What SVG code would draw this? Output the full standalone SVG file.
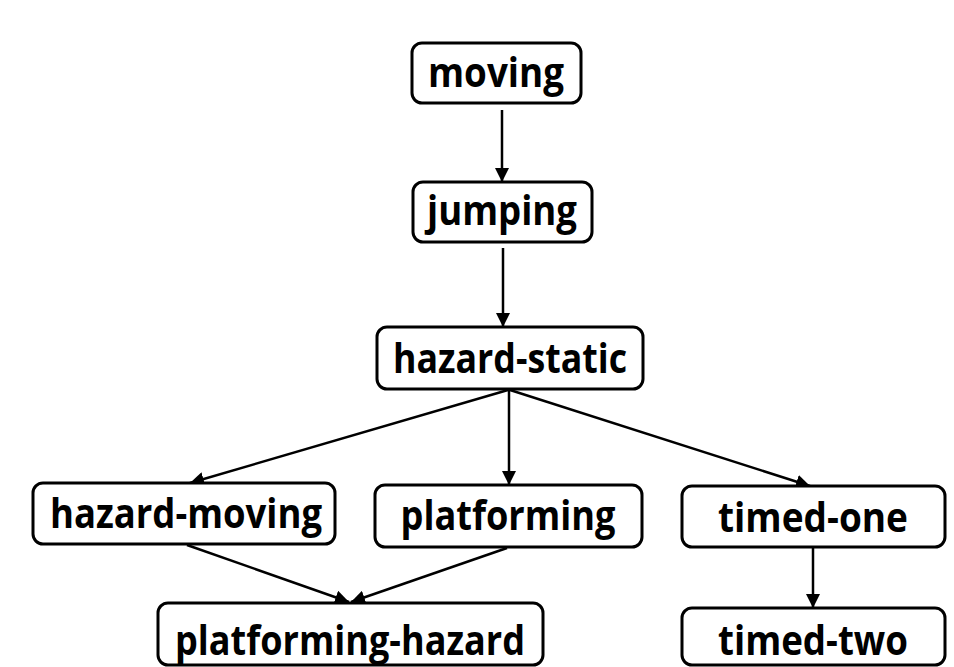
<svg xmlns="http://www.w3.org/2000/svg" width="954" height="667" viewBox="0 0 954 667">
<style>
.box{fill:#fff;stroke:#000;stroke-width:3}
.lbl{font-family:"Open Sans","Noto Sans","Liberation Sans",sans-serif;font-weight:700;font-size:41px;fill:#000;text-anchor:middle}
.edge{stroke:#000;stroke-width:2.5;fill:none;marker-end:url(#ah)}
</style>
<defs>
<marker id="ah" markerUnits="userSpaceOnUse" markerWidth="14" markerHeight="14" viewBox="0 0 12 12" refX="12" refY="6" orient="auto">
<path d="M0,0 L12,6 L0,12 z" fill="#000"/>
</marker>
</defs>
<rect width="954" height="667" fill="#fff"/>
<g id="connectors">
<line class="edge" x1="502" y1="110" x2="502" y2="182"/>
<line class="edge" x1="503" y1="248" x2="503" y2="327"/>
<line class="edge" x1="508" y1="390" x2="190" y2="483"/>
<line class="edge" x1="509" y1="390" x2="509" y2="485"/>
<line class="edge" x1="510" y1="390" x2="810" y2="486"/>
<line class="edge" x1="187" y1="545" x2="349" y2="602"/>
<line class="edge" x1="507" y1="548" x2="351" y2="602"/>
<line class="edge" x1="813" y1="548" x2="813" y2="608"/>
</g>
<g id="moving">
<rect class="box" x="412" y="43" width="169" height="60" rx="10"/>
<text class="lbl" x="496" y="87" textLength="136" lengthAdjust="spacingAndGlyphs">moving</text>
</g>
<g id="jumping">
<rect class="box" x="413" y="182" width="179" height="60" rx="10"/>
<text class="lbl" x="502" y="225" textLength="150" lengthAdjust="spacingAndGlyphs">jumping</text>
</g>
<g id="hazard-static">
<rect class="box" x="377" y="327" width="266" height="62" rx="10"/>
<text class="lbl" x="510" y="373" textLength="234" lengthAdjust="spacingAndGlyphs">hazard-static</text>
</g>
<g id="hazard-moving">
<rect class="box" x="33" y="483" width="302" height="61" rx="10"/>
<text class="lbl" x="186" y="528" textLength="272" lengthAdjust="spacingAndGlyphs">hazard-moving</text>
</g>
<g id="platforming">
<rect class="box" x="375" y="485" width="267" height="62" rx="10"/>
<text class="lbl" x="508" y="530" textLength="215" lengthAdjust="spacingAndGlyphs">platforming</text>
</g>
<g id="timed-one">
<rect class="box" x="682" y="486" width="263" height="61" rx="10"/>
<text class="lbl" x="813" y="532" textLength="190" lengthAdjust="spacingAndGlyphs">timed-one</text>
</g>
<g id="platforming-hazard">
<rect class="box" x="158" y="603" width="385" height="62" rx="10"/>
<text class="lbl" x="350" y="655" textLength="350" lengthAdjust="spacingAndGlyphs">platforming-hazard</text>
</g>
<g id="timed-two">
<rect class="box" x="682" y="608" width="263" height="57" rx="10"/>
<text class="lbl" x="813" y="655" textLength="190" lengthAdjust="spacingAndGlyphs">timed-two</text>
</g>
</svg>
